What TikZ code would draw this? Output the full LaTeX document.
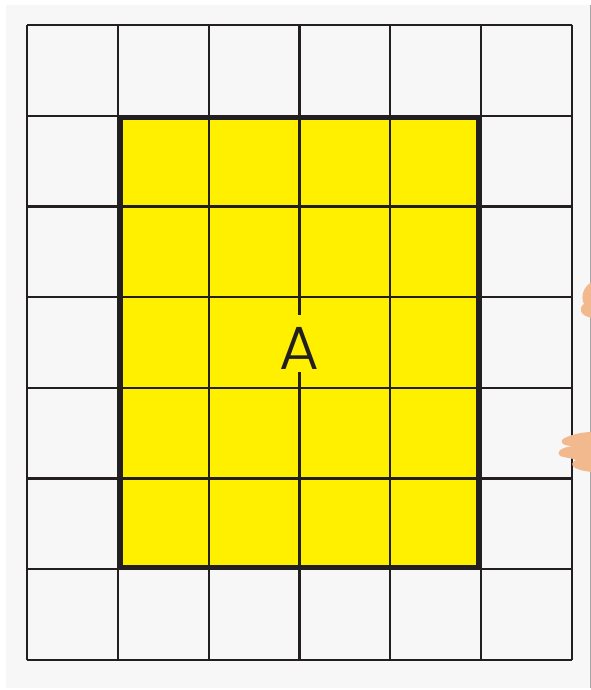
\documentclass[tikz,border=0pt]{standalone}
\usepackage{fontspec}
\newfontfamily\labelfont{Poppins}[UprightFont=* Light]
\definecolor{bggray}{HTML}{F7F7F7}
\definecolor{ink}{HTML}{231F20}
\definecolor{yel}{HTML}{FFF000}
\definecolor{skin}{HTML}{F2B98E}
\tikzset{
  gridline/.style={draw=ink, line width=2.2pt},
  areabox/.style={draw=ink, line width=5pt},
  letter/.style={font=\labelfont\fontsize{61}{61}\selectfont, text=ink, inner sep=0pt, anchor=base}
}
\begin{document}
\begin{tikzpicture}[x=1pt,y=-1pt]
\useasboundingbox (0,0) rectangle (591,690);
\fill[white] (0,0) rectangle (591,690);
\fill[bggray] (6,5) rectangle (590,688);
\draw[gray!70, line width=1pt] (590,5) -- (590,688);
% yellow area
\fill[yel] (118,116) rectangle (481,569);
% grid
\foreach \i in {0,1,2,4,5,6} {
  \draw[gridline] ({27+\i*90.83},25) -- ({27+\i*90.83},660);
}
\coordinate (vtop) at (299.5,25);
\coordinate (vgap1) at (299.5,315);
\coordinate (vgap2) at (299.5,372);
\coordinate (vbot) at (299.5,660);
\draw[gridline] (vtop) -- (vgap1);
\draw[gridline] (vgap2) -- (vbot);
\foreach \j in {0,...,7} {
  \draw[gridline] (27,{25+\j*90.71}) -- (572,{25+\j*90.71});
}
\draw[areabox] (120,118) rectangle (478.5,567);
\node[letter] (A) at (299.5,369.5) {A};
% hands at right edge
\fill[skin] (592,282) .. controls (584,286) and (580,296) .. (584,304)
  .. controls (578,308) and (580,316) .. (592,318) -- cycle;
\fill[skin] (592,432) .. controls (580,432) and (566,436) .. (562,440)
  .. controls (560,444) and (566,446) .. (572,446)
  .. controls (560,448) and (556,452) .. (560,456)
  .. controls (566,458) and (572,458) .. (576,460)
  .. controls (568,464) and (572,470) .. (592,472) -- cycle;
\end{tikzpicture}
\end{document}
